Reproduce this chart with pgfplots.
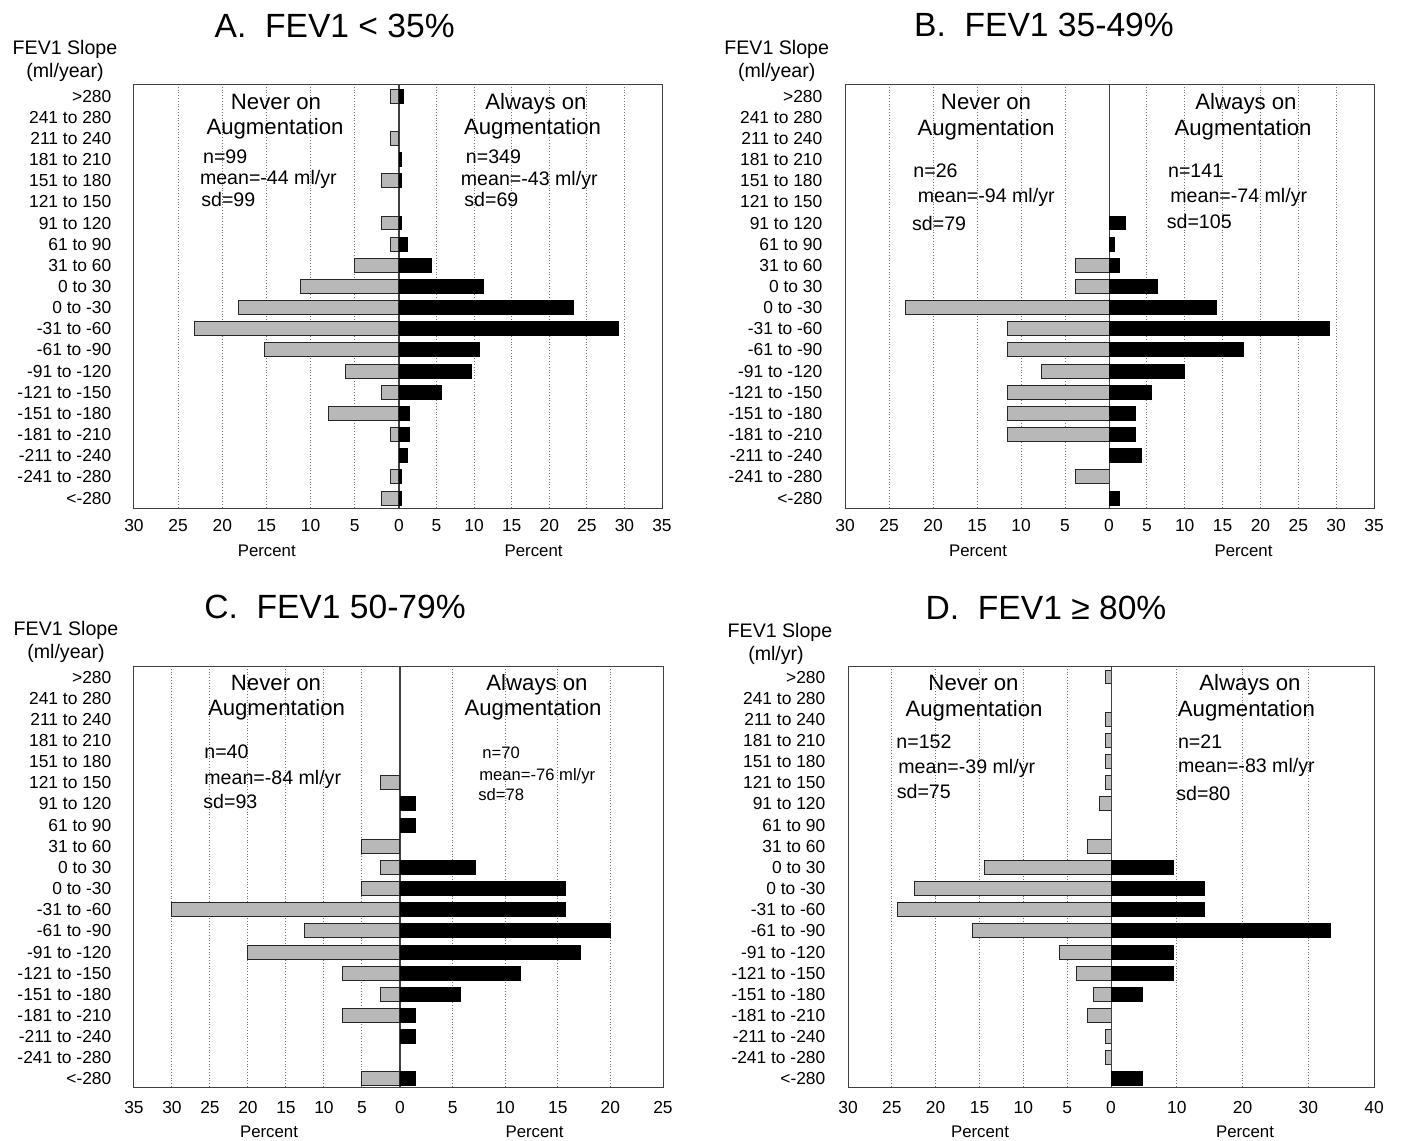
\documentclass[border=0pt]{standalone}
\usepackage{fontspec}
\setmainfont{Liberation Sans}
\usepackage{pgfplots}
\pgfplotsset{compat=1.18}
\definecolor{barg}{gray}{0.72}
\pgfplotsset{
  half/.style={scale only axis, xbar, y dir=reverse, xmin=0, ytick={0,...,19}, bar width=0.66,
    xmajorgrids, major grid style={densely dotted, black!55, line width=0.5pt},
    axis line style={black!75, line width=0.5pt}, major tick length=0pt, minor tick length=0pt,
    tick style={draw=none},
    xticklabel style={font=\fontsize{8.7}{10}\selectfont, anchor=base, inner sep=0pt},
    yticklabel style={font=\fontsize{8.7}{10}\selectfont, xshift=-7.8pt},
    anchor=north west},
  lefthalf/.style={half, x dir=reverse,
    yticklabels={>280, 241 to 280, 211 to 240, 181 to 210, 151 to 180, 121 to 150, 91 to 120, 61 to 90, 31 to 60, 0 to 30, 0 to -30, -31 to -60, -61 to -90, -91 to -120, -121 to -150, -151 to -180, -181 to -210, -211 to -240, -241 to -280, <-280}},
  righthalf/.style={half, ytick=\empty},
  ab/.style={height=212pt, ymin=-0.57, ymax=19.47, xticklabel style={yshift=-11.9pt}},
  cd/.style={height=210.5pt, ymin=-0.52, ymax=19.38, xticklabel style={yshift=-13pt}},
  never/.style={xbar, fill=barg, draw=black!85, line width=0.5pt},
  always/.style={xbar, fill=black, draw=black, line width=0.5pt},
}
\newcommand\txt[5]{\node[anchor=#3, inner sep=0pt, font=#4] at (#1*0.5pt,-#2*0.5pt) {#5};}
\newcommand\ttl{\fontsize{16.8}{20}\selectfont}
\newcommand\lab{\fontsize{9.8}{12}\selectfont}
\newcommand\grp{\fontsize{11.1}{13}\selectfont}
\newcommand\sta{\fontsize{9.8}{12}\selectfont}
\newcommand\stb{\fontsize{8.3}{10}\selectfont}
\newcommand\pct{\fontsize{8.4}{10}\selectfont}
\begin{document}
\begin{tikzpicture}
\useasboundingbox (0,0) rectangle (701pt,-570pt);
% ---------------- Panel A
\begin{axis}[lefthalf, ab, at={(67pt,-42pt)}, width=132.5pt, xmax=30, xtick={0,5,10,15,20,25,30}, xticklabels={0,5,10,15,20,25,30}]
\addplot[never] coordinates {(1,0) (1,2) (2,4) (2,6) (1,7) (5.05,8) (11.1,9) (18.2,10) (23.2,11) (15.2,12) (6.06,13) (2,14) (8.0,15) (1,16) (1,18) (2,19)};
\end{axis}
\begin{axis}[righthalf, ab, at={(199.5pt,-42pt)}, width=131.5pt, xmax=35, xtick={5,10,15,20,25,30,35}, xticklabels={5,10,15,20,25,30,35}]
\addplot[always] coordinates {(0.6,0) (0.3,3) (0.35,4) (0.3,6) (1.15,7) (4.3,8) (11.3,9) (23.2,10) (29.2,11) (10.7,12) (9.6,13) (5.6,14) (1.43,15) (1.43,16) (1.15,17) (0.3,18) (0.3,19)};
\end{axis}
% ---------------- Panel B
\begin{axis}[lefthalf, ab, at={(422.5pt,-42pt)}, width=132pt, xmax=30, xtick={0,5,10,15,20,25,30}, xticklabels={0,5,10,15,20,25,30}]
\addplot[never] coordinates {(3.85,8) (3.85,9) (23.08,10) (11.54,11) (11.54,12) (7.69,13) (11.54,14) (11.54,15) (11.54,16) (3.85,18)};
\end{axis}
\begin{axis}[righthalf, ab, at={(554.5pt,-42pt)}, width=132.5pt, xmax=35, xtick={5,10,15,20,25,30,35}, xticklabels={5,10,15,20,25,30,35}]
\addplot[always] coordinates {(2.13,6) (0.71,7) (1.42,8) (6.38,9) (14.18,10) (29.08,11) (17.73,12) (9.93,13) (5.67,14) (3.55,15) (3.55,16) (4.26,17) (1.42,19)};
\end{axis}
% ---------------- Panel C
\begin{axis}[lefthalf, cd, at={(67pt,-333pt)}, width=133pt, xmax=35, xtick={0,5,10,15,20,25,30,35}, xticklabels={0,5,10,15,20,25,30,35}]
\addplot[never] coordinates {(2.5,5) (5,8) (2.5,9) (5,10) (30,11) (12.5,12) (20,13) (7.5,14) (2.5,15) (7.5,16) (5,19)};
\end{axis}
\begin{axis}[righthalf, cd, at={(200pt,-333pt)}, width=131.5pt, xmax=25, xtick={5,10,15,20,25}, xticklabels={5,10,15,20,25}]
\addplot[always] coordinates {(1.43,6) (1.43,7) (7.14,9) (15.71,10) (15.71,11) (20,12) (17.14,13) (11.43,14) (5.71,15) (1.43,16) (1.43,17) (1.43,19)};
\end{axis}
% ---------------- Panel D
\begin{axis}[lefthalf, cd, at={(424pt,-333pt)}, width=131.5pt, xmax=30, xtick={0,5,10,15,20,25,30}, xticklabels={0,5,10,15,20,25,30}]
\addplot[never] coordinates {(0.66,0) (0.66,2) (0.66,3) (0.66,4) (0.66,5) (1.32,6) (2.63,8) (14.47,9) (22.37,10) (24.34,11) (15.79,12) (5.92,13) (3.95,14) (1.97,15) (2.63,16) (0.66,17) (0.66,18)};
\end{axis}
\begin{axis}[righthalf, cd, at={(555.5pt,-333pt)}, width=131.5pt, xmax=40, xtick={10,20,30,40}, xticklabels={10,20,30,40}]
\addplot[always] coordinates {(9.52,9) (14.29,10) (14.29,11) (33.33,12) (9.52,13) (9.52,14) (4.76,15) (4.76,19)};
\end{axis}
% ---------------- Texts A
\txt{334.7}{37}{base}{\ttl}{A.\ \ FEV1 < 35\%}
\txt{65}{54.4}{base}{\lab}{FEV1 Slope}
\txt{65}{77}{base}{\lab}{(ml/year)}
\txt{276}{109}{base}{\grp}{Never on}
\txt{275}{134.3}{base}{\grp}{Augmentation}
\txt{202.7}{163.3}{base west}{\sta}{n=99}
\txt{199.6}{184.4}{base west}{\sta}{mean=-44 ml/yr}
\txt{200.9}{206.2}{base west}{\sta}{sd=99}
\txt{536}{109}{base}{\grp}{Always on}
\txt{532.5}{134.3}{base}{\grp}{Augmentation}
\txt{465.5}{163.3}{base west}{\sta}{n=349}
\txt{460.5}{185}{base west}{\sta}{mean=-43 ml/yr}
\txt{464}{206}{base west}{\sta}{sd=69}
\txt{266.8}{556}{base}{\pct}{Percent}
\txt{533.6}{556}{base}{\pct}{Percent}
% ---------------- Texts B
\txt{1044}{36.3}{base}{\ttl}{B.\ \ FEV1 35-49\%}
\txt{776.7}{54.4}{base}{\lab}{FEV1 Slope}
\txt{776.7}{77}{base}{\lab}{(ml/year)}
\txt{986}{109}{base}{\grp}{Never on}
\txt{986}{135}{base}{\grp}{Augmentation}
\txt{913}{177}{base west}{\sta}{n=26}
\txt{917.5}{202.5}{base west}{\sta}{mean=-94 ml/yr}
\txt{911.7}{230.8}{base west}{\sta}{sd=79}
\txt{1246}{109}{base}{\grp}{Always on}
\txt{1243}{135}{base}{\grp}{Augmentation}
\txt{1167.7}{177}{base west}{\sta}{n=141}
\txt{1170}{202.5}{base west}{\sta}{mean=-74 ml/yr}
\txt{1166.4}{228}{base west}{\sta}{sd=105}
\txt{978}{556}{base}{\pct}{Percent}
\txt{1243.5}{556}{base}{\pct}{Percent}
% ---------------- Texts C
\txt{335}{618.6}{base}{\ttl}{C.\ \ FEV1 50-79\%}
\txt{66}{635}{base}{\lab}{FEV1 Slope}
\txt{66}{658}{base}{\lab}{(ml/year)}
\txt{276}{690}{base}{\grp}{Never on}
\txt{276.5}{715}{base}{\grp}{Augmentation}
\txt{204}{758.6}{base west}{\sta}{n=40}
\txt{204}{784}{base west}{\sta}{mean=-84 ml/yr}
\txt{203}{808.6}{base west}{\sta}{sd=93}
\txt{537}{690}{base}{\grp}{Always on}
\txt{533}{715}{base}{\grp}{Augmentation}
\txt{482}{758.6}{base west}{\stb}{n=70}
\txt{479}{780}{base west}{\stb}{mean=-76 ml/yr}
\txt{478}{800.7}{base west}{\stb}{sd=78}
\txt{269}{1137}{base}{\pct}{Percent}
\txt{534.5}{1137}{base}{\pct}{Percent}
% ---------------- Texts D
\txt{1046}{619}{base}{\ttl}{D.\ \ FEV1 ≥ 80\%}
\txt{780}{637}{base}{\lab}{FEV1 Slope}
\txt{776}{660}{base}{\lab}{(ml/yr)}
\txt{973.5}{690.7}{base}{\grp}{Never on}
\txt{974}{716}{base}{\grp}{Augmentation}
\txt{896}{748.6}{base west}{\sta}{n=152}
\txt{898}{773}{base west}{\sta}{mean=-39 ml/yr}
\txt{896.4}{798.6}{base west}{\sta}{sd=75}
\txt{1250}{690.7}{base}{\grp}{Always on}
\txt{1246.4}{716}{base}{\grp}{Augmentation}
\txt{1177.6}{748.6}{base west}{\sta}{n=21}
\txt{1177.6}{772}{base west}{\sta}{mean=-83 ml/yr}
\txt{1176}{800}{base west}{\sta}{sd=80}
\txt{980}{1137}{base}{\pct}{Percent}
\txt{1245}{1137}{base}{\pct}{Percent}
\end{tikzpicture}
\end{document}
